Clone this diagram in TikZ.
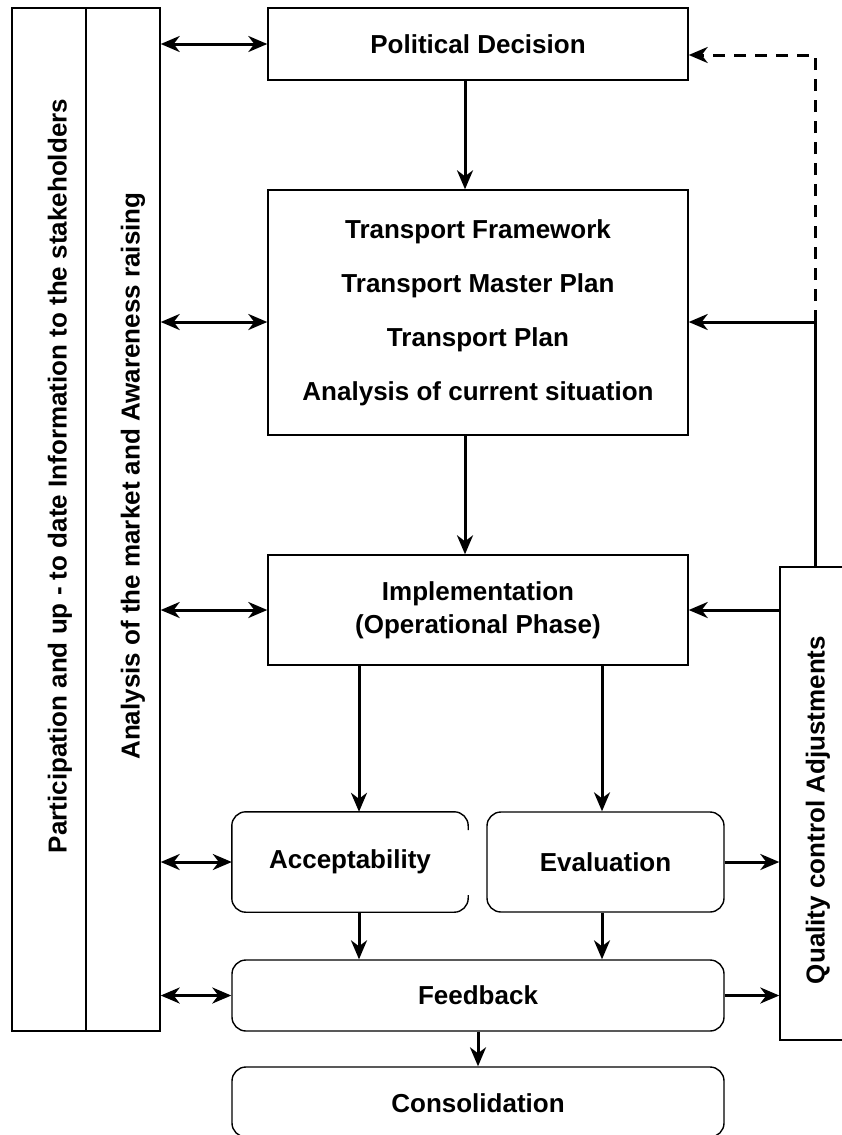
\documentclass[tikz,border=0pt]{standalone}
\usepackage{fontspec}
\setmainfont{Liberation Sans}
\usetikzlibrary{arrows.meta}
\begin{document}
\begin{tikzpicture}[x=1pt,y=-1pt,
  box/.style={draw, line width=1.4pt, inner sep=0pt},
  rbox/.style={box, rounded corners=14pt},
  lbl/.style={font=\bfseries\fontsize{26}{30}\selectfont, inner sep=0pt},
  arr/.style={line width=3pt, -{Stealth[length=19pt,width=16pt,inset=6pt]}},
  darr/.style={line width=3pt, {Stealth[length=19pt,width=16pt,inset=6pt]}-{Stealth[length=19pt,width=16pt,inset=6pt]}},
  plain/.style={line width=3pt},
]
\useasboundingbox (0,0) rectangle (842,1135);
% left column
\node[box, minimum width=74pt, minimum height=1023pt] (lpart) at (49,519.5) {};
\node[box, minimum width=74pt, minimum height=1023pt] (lana) at (123,519.5) {};
\node[lbl, rotate=90] (tpart) at (60,476) {Participation and up - to date Information to the stakeholders};
\node[lbl, rotate=90] (tana) at (133,476) {Analysis of the market and Awareness raising};
% main boxes
\node[box, minimum width=420pt, minimum height=72pt] (pol) at (478,44) {};
\node[lbl] (tpol) at (pol.center) {Political Decision};
\node[box, minimum width=420pt, minimum height=245pt] (tr) at (478,312.5) {};
\node[lbl, align=center, font=\bfseries\fontsize{26}{54}\selectfont] (ttr) at (tr.center) {Transport Framework\\Transport Master Plan\\Transport Plan\\Analysis of current situation};
\node[box, minimum width=420pt, minimum height=110pt] (imp) at (478,610) {};
\node[lbl, align=center, font=\bfseries\fontsize{26}{33}\selectfont] (timp) at (imp.center) {Implementation\\(Operational Phase)};
% acceptability (right edge partly hidden)
\node[minimum width=236pt, minimum height=100pt, inner sep=0pt] (acc) at (350,862) {};
\draw[line width=1.4pt, rounded corners=14pt] (acc.east |- 0,830) -- (acc.north east) -- (acc.north west) -- (acc.south west) -- (acc.south east) -- (acc.east |- 0,895);
\node[lbl] (tacc) at (acc.center) {Acceptability};
\node[rbox, minimum width=237pt, minimum height=100pt] (eva) at (605.5,862) {};
\node[lbl] (teva) at (eva.center) {Evaluation};
\node[rbox, minimum width=492pt, minimum height=71pt] (fb) at (478,995.5) {};
\node[lbl] (tfb) at (fb.center) {Feedback};
\node[rbox, minimum width=492pt, minimum height=70pt] (cons) at (478,1102) {};
\node[lbl] (tcons) at (478,1103) {Consolidation};
% quality control
\node[box, minimum width=70pt, minimum height=473pt] (qc) at (815,803.5) {};
\node[lbl, rotate=90] (tqc) at (818,810) {Quality control Adjustments};
% helper coordinates
\coordinate (cx) at (465,0);
\coordinate (ax) at (359,0);
\coordinate (ex) at (602,0);
\coordinate (j1) at (815,322);
\coordinate (j2) at (815,55);
% vertical flow
\draw[arr] (cx |- pol.south) -- (cx |- tr.north);
\draw[arr] (cx |- tr.south) -- (cx |- imp.north);
\draw[arr] (ax |- imp.south) -- (ax |- acc.north);
\draw[arr] (ex |- imp.south) -- (ex |- eva.north);
\draw[arr] (ax |- acc.south) -- (ax |- fb.north);
\draw[arr] (ex |- eva.south) -- (ex |- fb.north);
\draw[arr] (fb.south) -- (cons.north);
% left double arrows
\draw[darr] (lana.east |- pol.west) -- (pol.west);
\draw[darr] (lana.east |- j1) -- (tr.west |- j1);
\draw[darr] (lana.east |- imp.west) -- (imp.west);
\draw[darr] (lana.east |- acc.west) -- (acc.west);
\draw[darr] (lana.east |- fb.west) -- (fb.west);
% right side
\draw[arr] (eva.east) -- (qc.west |- eva.east);
\draw[arr] (fb.east) -- (qc.west |- fb.east);
\draw[arr] (qc.west |- imp.east) -- (imp.east);
\draw[plain] (qc.north -| j1) -- (j1);
\draw[arr] (j1) -- (tr.east |- j1);
\draw[arr, dash pattern=on 12pt off 9pt] (j1) -- (j2) -- (pol.east |- j2);
\end{tikzpicture}
\end{document}
